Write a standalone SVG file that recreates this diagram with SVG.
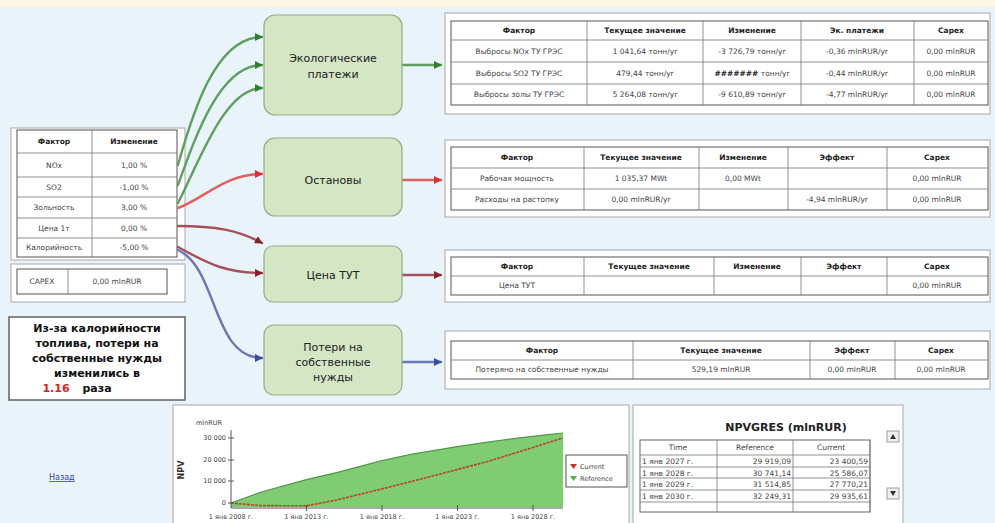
<svg xmlns="http://www.w3.org/2000/svg" width="995" height="523" viewBox="0 0 995 523">
<style>
.bg{fill:#e8f3fa}
.panel{fill:#ffffff;stroke:#a8a8a8;stroke-width:1}
.tbl{fill:#ffffff;stroke:#555;stroke-width:1}
.grid{stroke:#777;stroke-width:0.8}
.t{font-family:"DejaVu Sans",Verdana,sans-serif;font-size:7.5px;fill:#444;text-anchor:middle}
.th{font-family:"DejaVu Sans",Verdana,sans-serif;font-size:7.5px;fill:#222;text-anchor:middle;font-weight:bold}
.node{fill:#d4e6c3;stroke:#93ad86;stroke-width:1.2}
.nl{font-family:"DejaVu Sans",Verdana,sans-serif;font-size:11px;fill:#222;text-anchor:middle}
.note{font-family:"DejaVu Sans",Verdana,sans-serif;font-size:11px;font-weight:bold;fill:#111;text-anchor:middle}
.red{fill:#e02020}
.ax{font-family:"DejaVu Sans",Verdana,sans-serif;font-size:6.5px;fill:#444}
.c{fill:none;stroke-width:2.4;stroke-linecap:round}
</style>
<defs>
<marker id="mg" markerWidth="8" markerHeight="8" refX="7" refY="4" orient="auto" markerUnits="userSpaceOnUse"><path d="M0,0 L8,4 L0,8 z" fill="#2f7f2f"/></marker>
<marker id="mr" markerWidth="8" markerHeight="8" refX="7" refY="4" orient="auto" markerUnits="userSpaceOnUse"><path d="M0,0 L8,4 L0,8 z" fill="#d83030"/></marker>
<marker id="mm" markerWidth="8" markerHeight="8" refX="7" refY="4" orient="auto" markerUnits="userSpaceOnUse"><path d="M0,0 L8,4 L0,8 z" fill="#8c1f2a"/></marker>
<marker id="mb" markerWidth="8" markerHeight="8" refX="7" refY="4" orient="auto" markerUnits="userSpaceOnUse"><path d="M0,0 L8,4 L0,8 z" fill="#3a4aa8"/></marker>
</defs>

<rect class="bg" x="0" y="0" width="995" height="523"/>
<rect x="0" y="0" width="995" height="7" fill="#fcf6e2"/>

<!-- left factor table -->
<g id="factors">
<rect class="panel" x="11" y="128" width="174" height="132"/>
<rect class="tbl" x="17" y="130" width="160" height="127"/>
<line class="grid" x1="92" y1="130" x2="92" y2="257"/>
<line class="grid" x1="17" y1="153" x2="177" y2="153"/>
<line class="grid" x1="17" y1="177" x2="177" y2="177"/>
<line class="grid" x1="17" y1="197" x2="177" y2="197"/>
<line class="grid" x1="17" y1="218" x2="177" y2="218"/>
<line class="grid" x1="17" y1="238" x2="177" y2="238"/>
<text class="th" x="54" y="144">Фактор</text><text class="th" x="134" y="144">Изменение</text>
<text class="t" x="54" y="168">NOx</text><text class="t" x="134" y="168">1,00 %</text>
<text class="t" x="54" y="190">SO2</text><text class="t" x="134" y="190">-1,00 %</text>
<text class="t" x="54" y="210">Зольность</text><text class="t" x="134" y="210">3,00 %</text>
<text class="t" x="54" y="231">Цена 1т</text><text class="t" x="134" y="231">0,00 %</text>
<text class="t" x="54" y="250">Калорийность</text><text class="t" x="134" y="250">-5,00 %</text>
</g>

<g id="capex">
<rect class="panel" x="11" y="264" width="174" height="38"/>
<rect class="tbl" x="17" y="269" width="150" height="25"/>
<line class="grid" x1="68" y1="269" x2="68" y2="294"/>
<text class="t" x="42" y="284">CAPEX</text><text class="t" x="117" y="284">0,00 mlnRUR</text>
</g>

<g id="note">
<rect x="9" y="317" width="176" height="83" fill="#fff" stroke="#6a6a6a" stroke-width="1.6"/>
<text class="note" x="97" y="332">Из-за калорийности</text>
<text class="note" x="97" y="347">топлива, потери на</text>
<text class="note" x="97" y="362">собственные нужды</text>
<text class="note" x="97" y="377">изменились в</text>
<text class="note red" x="56" y="392">1.16</text>
<text class="note" x="97" y="392">раза</text>
</g>

<!-- connectors -->
<g id="connectors">
<path class="c" stroke="#5e9f5e" d="M178,165 C192,115 215,37 262,37" marker-end="url(#mg)"/>
<path class="c" stroke="#5e9f5e" d="M178,185 C196,135 220,65 262,65" marker-end="url(#mg)"/>
<path class="c" stroke="#5e9f5e" d="M178,203 C200,160 225,88 262,88" marker-end="url(#mg)"/>
<path class="c" stroke="#e06060" d="M178,208 C205,198 225,174 262,174" marker-end="url(#mr)"/>
<path class="c" stroke="#a85058" d="M178,226 C215,226 238,230 262,243" marker-end="url(#mm)"/>
<path class="c" stroke="#a85058" d="M178,247 C210,265 228,273 262,273" marker-end="url(#mm)"/>
<path class="c" stroke="#6c76bc" d="M178,250 C218,268 212,358 262,358" marker-end="url(#mb)"/>
<path class="c" stroke="#5e9f5e" d="M402,65 L441,65" marker-end="url(#mg)"/>
<path class="c" stroke="#e06060" d="M402,180 L441,180" marker-end="url(#mr)"/>
<path class="c" stroke="#a85058" d="M402,275 L441,275" marker-end="url(#mm)"/>
<path class="c" stroke="#6c76bc" d="M402,362 L441,362" marker-end="url(#mb)"/>
</g>

<!-- nodes -->
<g id="n-eco"><rect class="node" x="264" y="15" width="138" height="100" rx="11"/>
<text class="nl" x="333" y="62">Экологические</text><text class="nl" x="333" y="78">платежи</text></g>
<g id="n-stop"><rect class="node" x="264" y="138" width="138" height="78" rx="11"/>
<text class="nl" x="333" y="184">Остановы</text></g>
<g id="n-price"><rect class="node" x="264" y="246" width="138" height="56" rx="9"/>
<text class="nl" x="333" y="279">Цена ТУТ</text></g>
<g id="n-loss"><rect class="node" x="264" y="325" width="138" height="70" rx="10"/>
<text class="nl" x="333" y="351">Потери на</text><text class="nl" x="333" y="366">собственные</text><text class="nl" x="333" y="381">нужды</text></g>

<!-- table eco -->
<g id="t-eco">
<rect class="panel" x="445" y="13" width="545" height="101"/>
<rect class="tbl" x="451" y="21" width="537" height="84"/>
<line class="grid" x1="587" y1="21" x2="587" y2="105"/><line class="grid" x1="703" y1="21" x2="703" y2="105"/>
<line class="grid" x1="801" y1="21" x2="801" y2="105"/><line class="grid" x1="914" y1="21" x2="914" y2="105"/>
<line class="grid" x1="451" y1="40" x2="988" y2="40"/><line class="grid" x1="451" y1="62" x2="988" y2="62"/><line class="grid" x1="451" y1="84" x2="988" y2="84"/>
<text class="th" x="519" y="33">Фактор</text><text class="th" x="645" y="33">Текущее значение</text><text class="th" x="752" y="33">Изменение</text><text class="th" x="857" y="33">Эк. платежи</text><text class="th" x="951" y="33">Capex</text>
<text class="t" x="519" y="54">Выбросы NOx ТУ ГРЭС</text><text class="t" x="645" y="54">1 041,64 тонн/yr</text><text class="t" x="752" y="54">-3 726,79 тонн/yr</text><text class="t" x="857" y="54">-0,36 mlnRUR/yr</text><text class="t" x="951" y="54">0,00 mlnRUR</text>
<text class="t" x="519" y="76">Выбросы SO2 ТУ ГРЭС</text><text class="t" x="645" y="76">479,44 тонн/yr</text><text class="t" x="752" y="76"><tspan font-weight="bold" style="fill:#222">#######</tspan> тонн/yr</text><text class="t" x="857" y="76">-0,44 mlnRUR/yr</text><text class="t" x="951" y="76">0,00 mlnRUR</text>
<text class="t" x="519" y="97">Выбросы золы ТУ ГРЭС</text><text class="t" x="645" y="97">5 264,08 тонн/yr</text><text class="t" x="752" y="97">-9 610,89 тонн/yr</text><text class="t" x="857" y="97">-4,77 mlnRUR/yr</text><text class="t" x="951" y="97">0,00 mlnRUR</text>
</g>

<!-- table stops -->
<g id="t-stop">
<rect class="panel" x="445" y="140" width="545" height="77"/>
<rect class="tbl" x="451" y="147" width="537" height="63"/>
<line class="grid" x1="584" y1="147" x2="584" y2="210"/><line class="grid" x1="699" y1="147" x2="699" y2="210"/>
<line class="grid" x1="788" y1="147" x2="788" y2="210"/><line class="grid" x1="887" y1="147" x2="887" y2="210"/>
<line class="grid" x1="451" y1="168" x2="988" y2="168"/><line class="grid" x1="451" y1="189" x2="988" y2="189"/>
<text class="th" x="517" y="160">Фактор</text><text class="th" x="641" y="160">Текущее значение</text><text class="th" x="743" y="160">Изменение</text><text class="th" x="837" y="160">Эффект</text><text class="th" x="937" y="160">Capex</text>
<text class="t" x="517" y="181">Рабочая мощность</text><text class="t" x="641" y="181">1 035,37 MWt</text><text class="t" x="743" y="181">0,00 MWt</text><text class="t" x="937" y="181">0,00 mlnRUR</text>
<text class="t" x="517" y="202">Расходы на растопку</text><text class="t" x="641" y="202">0,00 mlnRUR/yr</text><text class="t" x="837" y="202">-4,94 mlnRUR/yr</text><text class="t" x="937" y="202">0,00 mlnRUR</text>
</g>

<!-- table price -->
<g id="t-price">
<rect class="panel" x="445" y="250" width="545" height="52"/>
<rect class="tbl" x="451" y="257" width="537" height="38"/>
<line class="grid" x1="584" y1="257" x2="584" y2="295"/><line class="grid" x1="714" y1="257" x2="714" y2="295"/>
<line class="grid" x1="801" y1="257" x2="801" y2="295"/><line class="grid" x1="887" y1="257" x2="887" y2="295"/>
<line class="grid" x1="451" y1="276" x2="988" y2="276"/>
<text class="th" x="517" y="269">Фактор</text><text class="th" x="649" y="269">Текущее значение</text><text class="th" x="757" y="269">Изменение</text><text class="th" x="844" y="269">Эффект</text><text class="th" x="937" y="269">Capex</text>
<text class="t" x="517" y="288">Цена ТУТ</text><text class="t" x="937" y="288">0,00 mlnRUR</text>
</g>

<!-- table losses -->
<g id="t-loss">
<rect class="panel" x="445" y="331" width="545" height="58"/>
<rect class="tbl" x="451" y="341" width="537" height="38"/>
<line class="grid" x1="633" y1="341" x2="633" y2="379"/><line class="grid" x1="810" y1="341" x2="810" y2="379"/><line class="grid" x1="895" y1="341" x2="895" y2="379"/>
<line class="grid" x1="451" y1="360" x2="988" y2="360"/>
<text class="th" x="542" y="353">Фактор</text><text class="th" x="721" y="353">Текущее значение</text><text class="th" x="852" y="353">Эффект</text><text class="th" x="941" y="353">Capex</text>
<text class="t" x="542" y="372">Потеряно на собственные нужды</text><text class="t" x="721" y="372">529,19 mlnRUR</text><text class="t" x="852" y="372">0,00 mlnRUR</text><text class="t" x="941" y="372">0,00 mlnRUR</text>
</g>

<!-- back link -->
<text x="49" y="480" font-family="DejaVu Sans, Verdana, sans-serif" font-size="8px" fill="#3344aa" text-decoration="underline">Назад</text>

<!-- chart -->
<g id="chart">
<rect class="panel" x="173" y="405" width="456" height="125" stroke="#888"/>
<path d="M231,503 L261.2,492 L306.5,479.6 L336.6,472.6 L381.9,460.7 L412.1,454.2 L457.4,446.6 L487.5,442.2 L517.7,438.1 L532.8,436.3 L547.9,434.6 L563,433 L563,507 L231,507 Z" fill="#7fcc72" stroke="none"/>
<path d="M231,503 L261.2,492 L306.5,479.6 L336.6,472.6 L381.9,460.7 L412.1,454.2 L457.4,446.6 L487.5,442.2 L517.7,438.1 L532.8,436.3 L547.9,434.6 L563,433" fill="none" stroke="#4f9a45" stroke-width="1.2"/>
<path d="M231,503 L261.2,505.6 L306.5,505.8 L336.6,500 L381.9,488.9 L412.1,481.3 L457.4,469.4 L487.5,461.6 L517.7,452.2 L532.8,447.5 L547.9,442.7 L563,438" fill="none" stroke="#b8442e" stroke-width="1.6" stroke-dasharray="3,1"/>
<line x1="231" y1="430" x2="231" y2="508" stroke="#555" stroke-width="1"/>
<line x1="231" y1="508" x2="563" y2="508" stroke="#555" stroke-width="1"/>
<g stroke="#555" stroke-width="1">
<line x1="228" y1="438" x2="234" y2="438"/><line x1="228" y1="460" x2="234" y2="460"/><line x1="228" y1="481" x2="234" y2="481"/><line x1="228" y1="503" x2="234" y2="503"/>
<line x1="306.5" y1="505" x2="306.5" y2="511"/><line x1="382" y1="505" x2="382" y2="511"/><line x1="457.5" y1="505" x2="457.5" y2="511"/><line x1="533" y1="505" x2="533" y2="511"/>
</g>
<text class="ax" x="196" y="425">mlnRUR</text>
<text class="ax" x="226" y="440" text-anchor="end">30 000</text>
<text class="ax" x="226" y="462" text-anchor="end">20 000</text>
<text class="ax" x="226" y="483" text-anchor="end">10 000</text>
<text class="ax" x="226" y="505" text-anchor="end">0</text>
<text x="184" y="470" transform="rotate(-90 184 470)" font-family="DejaVu Sans, Verdana, sans-serif" font-size="8px" font-weight="bold" fill="#333" text-anchor="middle">NPV</text>
<text class="ax" x="231" y="519" text-anchor="middle">1 янв 2008 г.</text>
<text class="ax" x="306.5" y="519" text-anchor="middle">1 янв 2013 г.</text>
<text class="ax" x="382" y="519" text-anchor="middle">1 янв 2018 г.</text>
<text class="ax" x="457.5" y="519" text-anchor="middle">1 янв 2023 г.</text>
<text class="ax" x="533" y="519" text-anchor="middle">1 янв 2028 г.</text>
<rect x="566" y="455" width="61" height="32" fill="#fff" stroke="#555" stroke-width="1"/>
<polygon points="570,464 577,464 573.5,469" fill="#d03030"/>
<polygon points="570,476 577,476 573.5,481" fill="#55b045"/>
<text class="ax" x="580" y="469">Current</text>
<text class="ax" x="580" y="481">Reference</text>
</g>

<!-- NPV table -->
<g id="npv">
<rect class="panel" x="633" y="405" width="270" height="125" stroke="#888"/>
<text x="786" y="431" font-family="DejaVu Sans, Verdana, sans-serif" font-size="11px" font-weight="bold" fill="#222" text-anchor="middle">NPVGRES (mlnRUR)</text>
<rect x="640" y="440" width="230" height="72" fill="#fff" stroke="#666" stroke-width="1"/>
<g class="grid">
<line x1="717" y1="440" x2="717" y2="512"/><line x1="793" y1="440" x2="793" y2="512"/><line x1="870" y1="440" x2="870" y2="512"/>
<line x1="640" y1="455" x2="870" y2="455"/><line x1="640" y1="467" x2="870" y2="467"/><line x1="640" y1="478" x2="870" y2="478"/><line x1="640" y1="490" x2="870" y2="490"/><line x1="640" y1="502" x2="870" y2="502"/>
</g>
<text class="t" x="678" y="450">Time</text><text class="t" x="755" y="450">Reference</text><text class="t" x="831" y="450">Current</text>
<g class="t" style="text-anchor:start">
<text x="642" y="464">1 янв 2027 г.</text><text x="642" y="476">1 янв 2028 г.</text><text x="642" y="487">1 янв 2029 г.</text><text x="642" y="499">1 янв 2030 г.</text>
</g>
<g class="t" style="text-anchor:end">
<text x="791" y="464">29 919,09</text><text x="791" y="476">30 741,14</text><text x="791" y="487">31 514,85</text><text x="791" y="499">32 249,31</text>
<text x="868" y="464">23 400,59</text><text x="868" y="476">25 586,07</text><text x="868" y="487">27 770,21</text><text x="868" y="499">29 935,61</text>
</g>
<rect x="887" y="431" width="12" height="11" fill="#f0f0f0" stroke="#888" stroke-width="0.8"/>
<polygon points="890,439 896,439 893,434" fill="#333"/>
<rect x="887" y="488" width="12" height="11" fill="#f0f0f0" stroke="#888" stroke-width="0.8"/>
<polygon points="890,491 896,491 893,496" fill="#333"/>
</g>
</svg>
